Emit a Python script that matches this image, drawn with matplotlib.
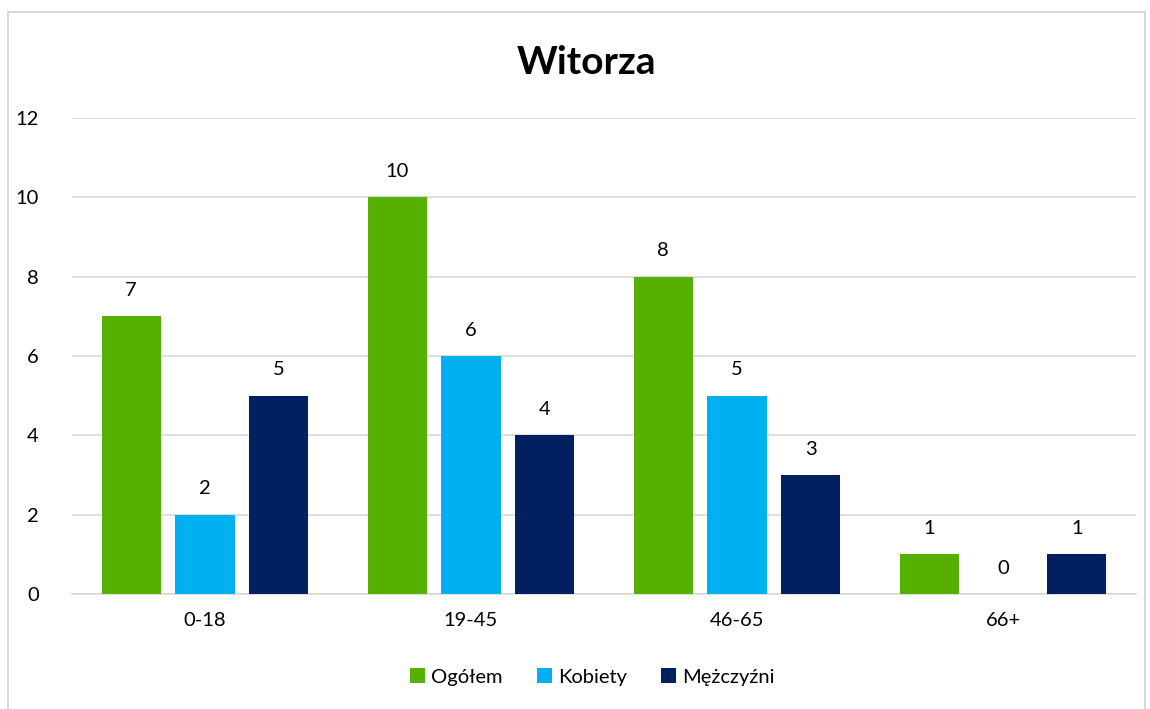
import numpy as np
import matplotlib.pyplot as plt
from matplotlib.patches import Rectangle

plt.rcParams['font.family'] = ['Lato', 'DejaVu Sans']

groups = ['0-18', '19-45', '46-65', '66+']
series = ['Ogółem', 'Kobiety', 'Mężczyźni']
ogolem = [7, 10, 8, 1]
kobiety = [2, 6, 5, 0]
mezczyzni = [5, 4, 3, 1]
colors = ['#56b000', '#00b0f0', '#002060']

fig = plt.figure(figsize=(11.5, 7.09), dpi=100)
ax = fig.add_axes([0.0626, 0.1622, 0.9252, 0.6714])

# chart frame
fig.patches.append(Rectangle((0.007, -0.01), 0.989, 0.993, transform=fig.transFigure,
                             fill=False, edgecolor='#d9d9d9', linewidth=1.5))

x = np.arange(len(groups))
w = 0.222
step = 0.278
for i, (vals, name) in enumerate(zip([ogolem, kobiety, mezczyzni], series)):
    pos = x + (i - 1) * step
    ax.bar(pos, vals, width=w, color=colors[i], label=name, zorder=3)
    for p, v in zip(pos, vals):
        ax.text(p, v + 0.65, str(v), ha='center', va='center', fontsize=14.5, color='#000000')

ax.set_xlim(-0.5, 3.5)
ax.set_ylim(0, 12)
ax.set_yticks(range(0, 13, 2))
ax.set_xticks(x)
ax.set_xticklabels(groups)
ax.tick_params(length=0, labelsize=14.5, colors='#000000')
ax.tick_params(axis='y', pad=24)
ax.tick_params(axis='x', pad=13)
ax.grid(axis='y', color='#d9d9d9', linewidth=1.2, zorder=0)
for s in ['top', 'right', 'left']:
    ax.spines[s].set_visible(False)
ax.spines['bottom'].set_color('#d9d9d9')
ax.spines['bottom'].set_linewidth(1.2)

fig.text(0.51, 0.912, 'Witorza', ha='center', va='center', fontsize=28, fontweight='bold')

fig.legend(loc='center', bbox_to_anchor=(0.515, 0.045), ncol=3, frameon=False,
           fontsize=14.5, handlelength=0.75, handleheight=0.75, handletextpad=0.3,
           columnspacing=1.7)

fig.savefig('out.png', dpi=100)
